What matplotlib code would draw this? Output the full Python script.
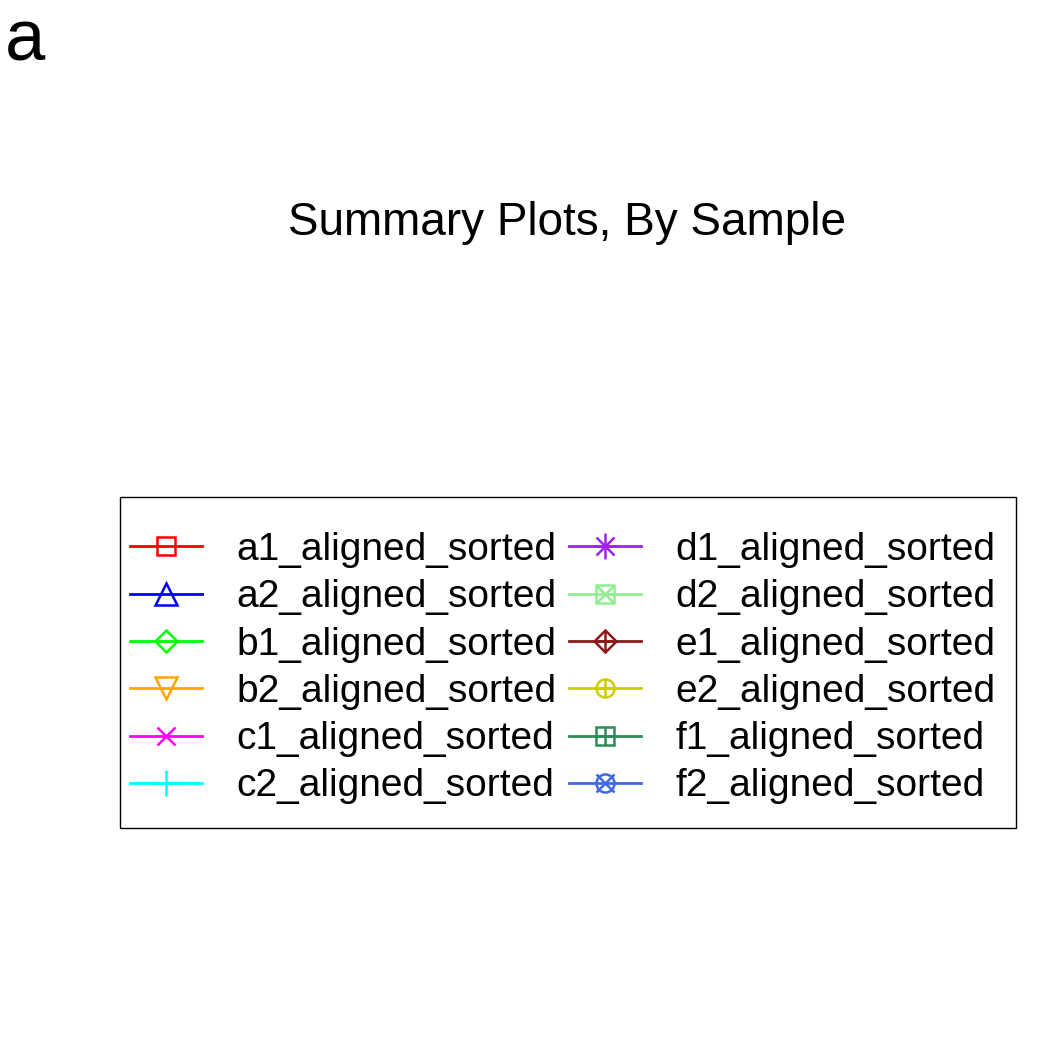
import matplotlib
matplotlib.use("Agg")
import matplotlib.pyplot as plt
from matplotlib.lines import Line2D
from matplotlib.patches import Rectangle
from matplotlib.legend_handler import HandlerTuple

plt.rcParams['font.family'] = ['Liberation Sans', 'DejaVu Sans']

etiquetas = ["a1_aligned_sorted", "a2_aligned_sorted", "b1_aligned_sorted",
             "b2_aligned_sorted", "c1_aligned_sorted", "c2_aligned_sorted",
             "d1_aligned_sorted", "d2_aligned_sorted", "e1_aligned_sorted",
             "e2_aligned_sorted", "f1_aligned_sorted", "f2_aligned_sorted"]
colores = ["#FF0000", "#0000FF", "#00FF00", "#FFA500", "#FF00FF", "#00FFFF",
           "#A020F0", "#90EE90", "#8B1A1A", "#CDCD00", "#2E8B57", "#4169E1"]
# cada simbolo = lista de (marcador, tamano) superpuestos, estilo pch de R
simbolos = [[("s", 13)], [("^", 16.5)], [("D", 11.7)], [("v", 16.5)],
            [("x", 13)], [("+", 18.7)], [("+", 18.7), ("x", 13)],
            [("s", 13.5), ("x", 13.5)], [("D", 11.7), ("+", 16.5)],
            [("o", 13), ("+", 13)], [("s", 13.5), ("+", 13.5)],
            [("o", 13), ("x", 13.5)]]

fig = plt.figure(figsize=(10.5, 10.5), dpi=100)

fig.text(5 / 1050, 1 - 42 / 1050, "a", fontsize=52, ha="left", va="center")
fig.text(567 / 1050, 1 - 223 / 1050, "Summary Plots, By Sample",
         fontsize=33, ha="center", va="center")

manejadores = []
for col, simb in zip(colores, simbolos):
    partes = []
    for i, (m, ms) in enumerate(simb):
        partes.append(Line2D([], [], color=col, lw=2 if i == 0 else 0,
                             marker=m, markersize=ms, markerfacecolor="none",
                             markeredgecolor=col, markeredgewidth=1.8))
    manejadores.append(tuple(partes))

leg = fig.legend(manejadores, etiquetas, ncol=2, frameon=False,
                 loc="upper left", bbox_to_anchor=(130 / 1050, 1 - 532 / 1050),
                 fontsize=28, handlelength=1.85, handletextpad=0.88,
                 columnspacing=0.33, labelspacing=0.29, borderpad=0,
                 borderaxespad=0,
                 handler_map={tuple: HandlerTuple(ndivide=1)})

fig.patches.append(Rectangle((120 / 1050, 1 - 828 / 1050), 896 / 1050, 331 / 1050,
                             transform=fig.transFigure, fill=False,
                             edgecolor="black", lw=1))

plt.savefig("out.png", dpi=100)
